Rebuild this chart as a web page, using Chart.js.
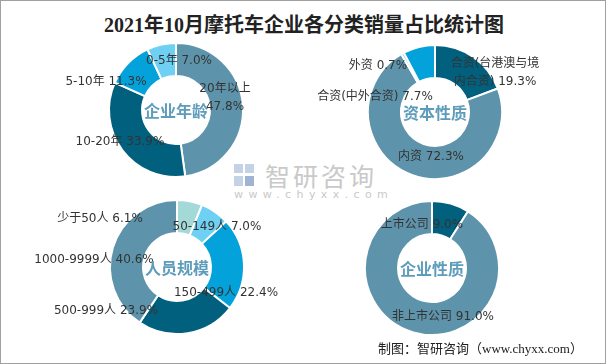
<!DOCTYPE html>
<html>
<head>
<meta charset="utf-8">
<script src="https://cdn.jsdelivr.net/npm/chart.js@4/dist/chart.umd.min.js"></script>
<style>
  html, body { margin: 0; padding: 0; background: #fff; }
  #wrap { position: relative; width: 606px; height: 364px; box-sizing: border-box; border: 1px solid #a0a0a0; overflow: hidden; }
  #title { position: absolute; left: 0; top: 8px; width: 606px; text-align: center; font: bold 20px "Liberation Serif", "Noto Sans CJK SC"; color: #222; }
  canvas { position: absolute; }
  #wm { position: absolute; left: 233px; top: 160px; color: #c9c9c9; }
  #wm .logo { position: absolute; left: 0; top: 3px; width: 22px; height: 22px; }
  #wm .name { position: absolute; left: 31px; top: -4px; font: 25px "Noto Sans CJK SC"; letter-spacing: 3px; white-space: nowrap; }
  #wm .url { position: absolute; left: 0; top: 27px; font: 11px "DejaVu Sans"; letter-spacing: 5.4px; white-space: nowrap; }
  #foot { position: absolute; left: 377px; top: 337px; font: 13px "Liberation Serif", "Noto Sans CJK SC"; color: #222; white-space: nowrap; }
</style>
</head>
<body>
<div id="wrap">
  <div id="title">2021年10月摩托车企业各分类销量占比统计图</div>
  <div id="wm">
    <div class="logo">
      <div style="position:absolute;left:0;top:0;width:9px;height:9px;background:#c5d2e6"></div>
      <div style="position:absolute;left:11px;top:0;width:9px;height:9px;background:#c5d2e6"></div>
      <div style="position:absolute;left:0;top:12px;width:9px;height:10px;background:#c5d2e6"></div>
      <div style="position:absolute;left:11px;top:12px;width:9px;height:10px;background:#9fb4d3"></div>
    </div>
    <div class="name">智研咨询</div>
    <div class="url">www.chyxx.com</div>
  </div>
  <canvas id="c1" width="300" height="140" style="left:25px;top:39px"></canvas>
  <canvas id="c2" width="300" height="140" style="left:284px;top:41px"></canvas>
  <canvas id="c3" width="300" height="140" style="left:26px;top:196px"></canvas>
  <canvas id="c4" width="300" height="140" style="left:281px;top:197px"></canvas>
  <div id="foot">制图：智研咨询（www.chyxx.com）</div>
</div>
<script>
// data
const ageLabels = ['20年以上', '10-20年', '5-10年', '0-5年'];
const ageValues = [47.8, 33.9, 11.3, 7.0];

const capLabels = ['合资(台港澳与境内合资)', '内资', '外资', '合资(中外合资)'];
const capValues = [19.3, 72.3, 0.7, 7.7];

const staffLabels = ['少于50人', '50-149人', '150-499人', '500-999人', '1000-9999人'];
const staffValues = [6.1, 7.0, 22.4, 23.9, 40.6];

const listLabels = ['上市公司', '非上市公司'];
const listValues = [9.0, 91.0];

const SLATE = '#5e94ab', DARK = '#02607f', BLUE = '#03a2db', LIGHT = '#6ed0f2', PALE = '#a3dad8';

// label placement relative to doughnut centre (dx, dy), br = break position for two-line labels
const labelPlugin = {
  id: 'ringLabels',
  afterDatasetsDraw(chart, args, opts) {
    const ctx = chart.ctx;
    const meta = chart.getDatasetMeta(0);
    const arc0 = meta.data[0];
    const cx = arc0.x, cy = arc0.y;
    const ds = chart.data.datasets[0];
    ctx.save();
    ctx.textAlign = 'center';
    ctx.textBaseline = 'middle';
    ctx.fillStyle = '#333';
    ctx.font = '12px "DejaVu Sans", "Noto Sans CJK SC"';
    chart.data.labels.forEach((lab, i) => {
      const pos = opts.pos[i];
      const txt = lab + ' ' + ds.data[i].toFixed(1) + '%';
      if (pos.br) {
        ctx.fillText(txt.slice(0, pos.br).trim(), cx + pos.dx, cy + pos.dy - 9);
        ctx.fillText(txt.slice(pos.br).trim(), cx + pos.dx, cy + pos.dy + 9);
      } else {
        ctx.fillText(txt, cx + pos.dx, cy + pos.dy);
      }
    });
    ctx.fillStyle = '#5d9cba';
    ctx.font = 'bold 16px "Noto Sans CJK SC"';
    ctx.fillText(opts.center, cx, cy + 1);
    ctx.restore();
  }
};

function createChart(id, labels, values, colors, center, pos) {
  new Chart(document.getElementById(id), {
    type: 'doughnut',
    plugins: [labelPlugin],
    data: {
      labels: labels,
      datasets: [{
        data: values,
        backgroundColor: colors,
        borderColor: '#ffffff',
        borderWidth: 2,
        radius: 67,
        cutout: 35
      }]
    },
    options: {
      responsive: false,
      animation: false,
      plugins: {
        legend: { display: false },
        tooltip: { enabled: false },
        ringLabels: { center: center, pos: pos }
      }
    }
  });
}

createChart('c1', ageLabels, ageValues, [SLATE, DARK, BLUE, LIGHT], '企业年龄', [
  { dx: 49, dy: -12, br: 5 },
  { dx: -56, dy: 32 },
  { dx: -70, dy: -28 },
  { dx: 3, dy: -49 }
]);

createChart('c2', capLabels, capValues, [DARK, SLATE, LIGHT, BLUE], '资本性质', [
  { dx: 60, dy: -39, br: 8 },
  { dx: -4, dy: 45 },
  { dx: -57, dy: -46 },
  { dx: -60, dy: -15 }
]);

createChart('c3', staffLabels, staffValues, [PALE, LIGHT, BLUE, DARK, SLATE], '人员规模', [
  { dx: -77, dy: -48 },
  { dx: 40, dy: -40 },
  { dx: 49, dy: 26 },
  { dx: -71, dy: 44 },
  { dx: -83, dy: -7 }
]);

createChart('c4', listLabels, listValues, [DARK, SLATE], '企业性质', [
  { dx: -10, dy: -43 },
  { dx: 11, dy: 49 }
]);
</script>
</body>
</html>
